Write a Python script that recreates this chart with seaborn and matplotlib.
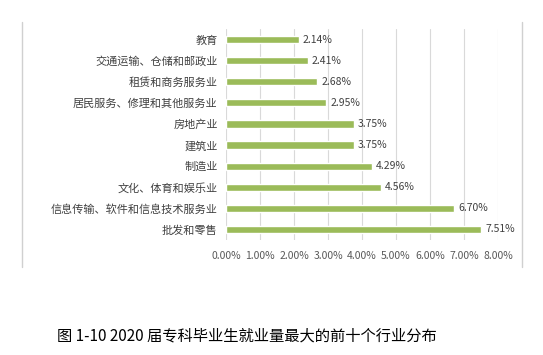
import matplotlib
matplotlib.use("Agg")
import matplotlib.pyplot as plt
import seaborn as sns
import pandas as pd
from matplotlib.lines import Line2D
from matplotlib.ticker import FuncFormatter, MultipleLocator

# 行业及就业占比 (%)
industries = ["教育", "交通运输、仓储和邮政业", "租赁和商务服务业", "居民服务、修理和其他服务业",
              "房地产业", "建筑业", "制造业", "文化、体育和娱乐业",
              "信息传输、软件和信息技术服务业", "批发和零售"]
shares = [2.14, 2.41, 2.68, 2.95, 3.75, 3.75, 4.29, 4.56, 6.70, 7.51]
caption = "图 1-10 2020 届专科毕业生就业量最大的前十个行业分布"

df = pd.DataFrame({"industry": industries, "share": shares})

sns.set_theme(style="white")
plt.rcParams['font.family'] = ['Noto Sans CJK SC', 'DejaVu Sans']

fig = plt.figure(figsize=(5.43, 3.55), dpi=100)
ax = fig.add_axes([226 / 543, 1 - 240 / 355, (498 - 226) / 543, (240 - 29) / 355])

sns.barplot(data=df, x="share", y="industry", color="#9BBB59", width=0.34,
            saturation=1, ax=ax, zorder=3)

for i, v in enumerate(shares):
    ax.text(v + 0.12, i, f"{v:.2f}%", va="center", ha="left", fontsize=7.5,
            color="#404040")

ax.set_xlim(0, 8)
ax.xaxis.set_major_locator(MultipleLocator(1))
ax.xaxis.set_major_formatter(FuncFormatter(lambda x, p: f"{x:.2f}%"))
ax.grid(axis="x", color="#d9d9d9", linewidth=0.8, zorder=0)
ax.set_xlabel("")
ax.set_ylabel("")
for s in ax.spines.values():
    s.set_visible(False)
ax.tick_params(axis="x", labelsize=7.5, colors="#595959", length=0, pad=8)
ax.tick_params(axis="y", labelsize=8, colors="#404040", length=0, pad=6)

# chart area side borders (image is cropped at top and bottom)
for xb in (22, 522):
    fig.lines.append(Line2D([xb / 543, xb / 543], [1 - 22 / 355, 1 - 267 / 355],
                            transform=fig.transFigure, color="#d0d0d0", linewidth=1.0))

fig.text(247 / 543, 1 - 336 / 355, caption, ha="center", va="center",
         fontsize=11, color="#000000")

fig.savefig("out.png", dpi=100)
